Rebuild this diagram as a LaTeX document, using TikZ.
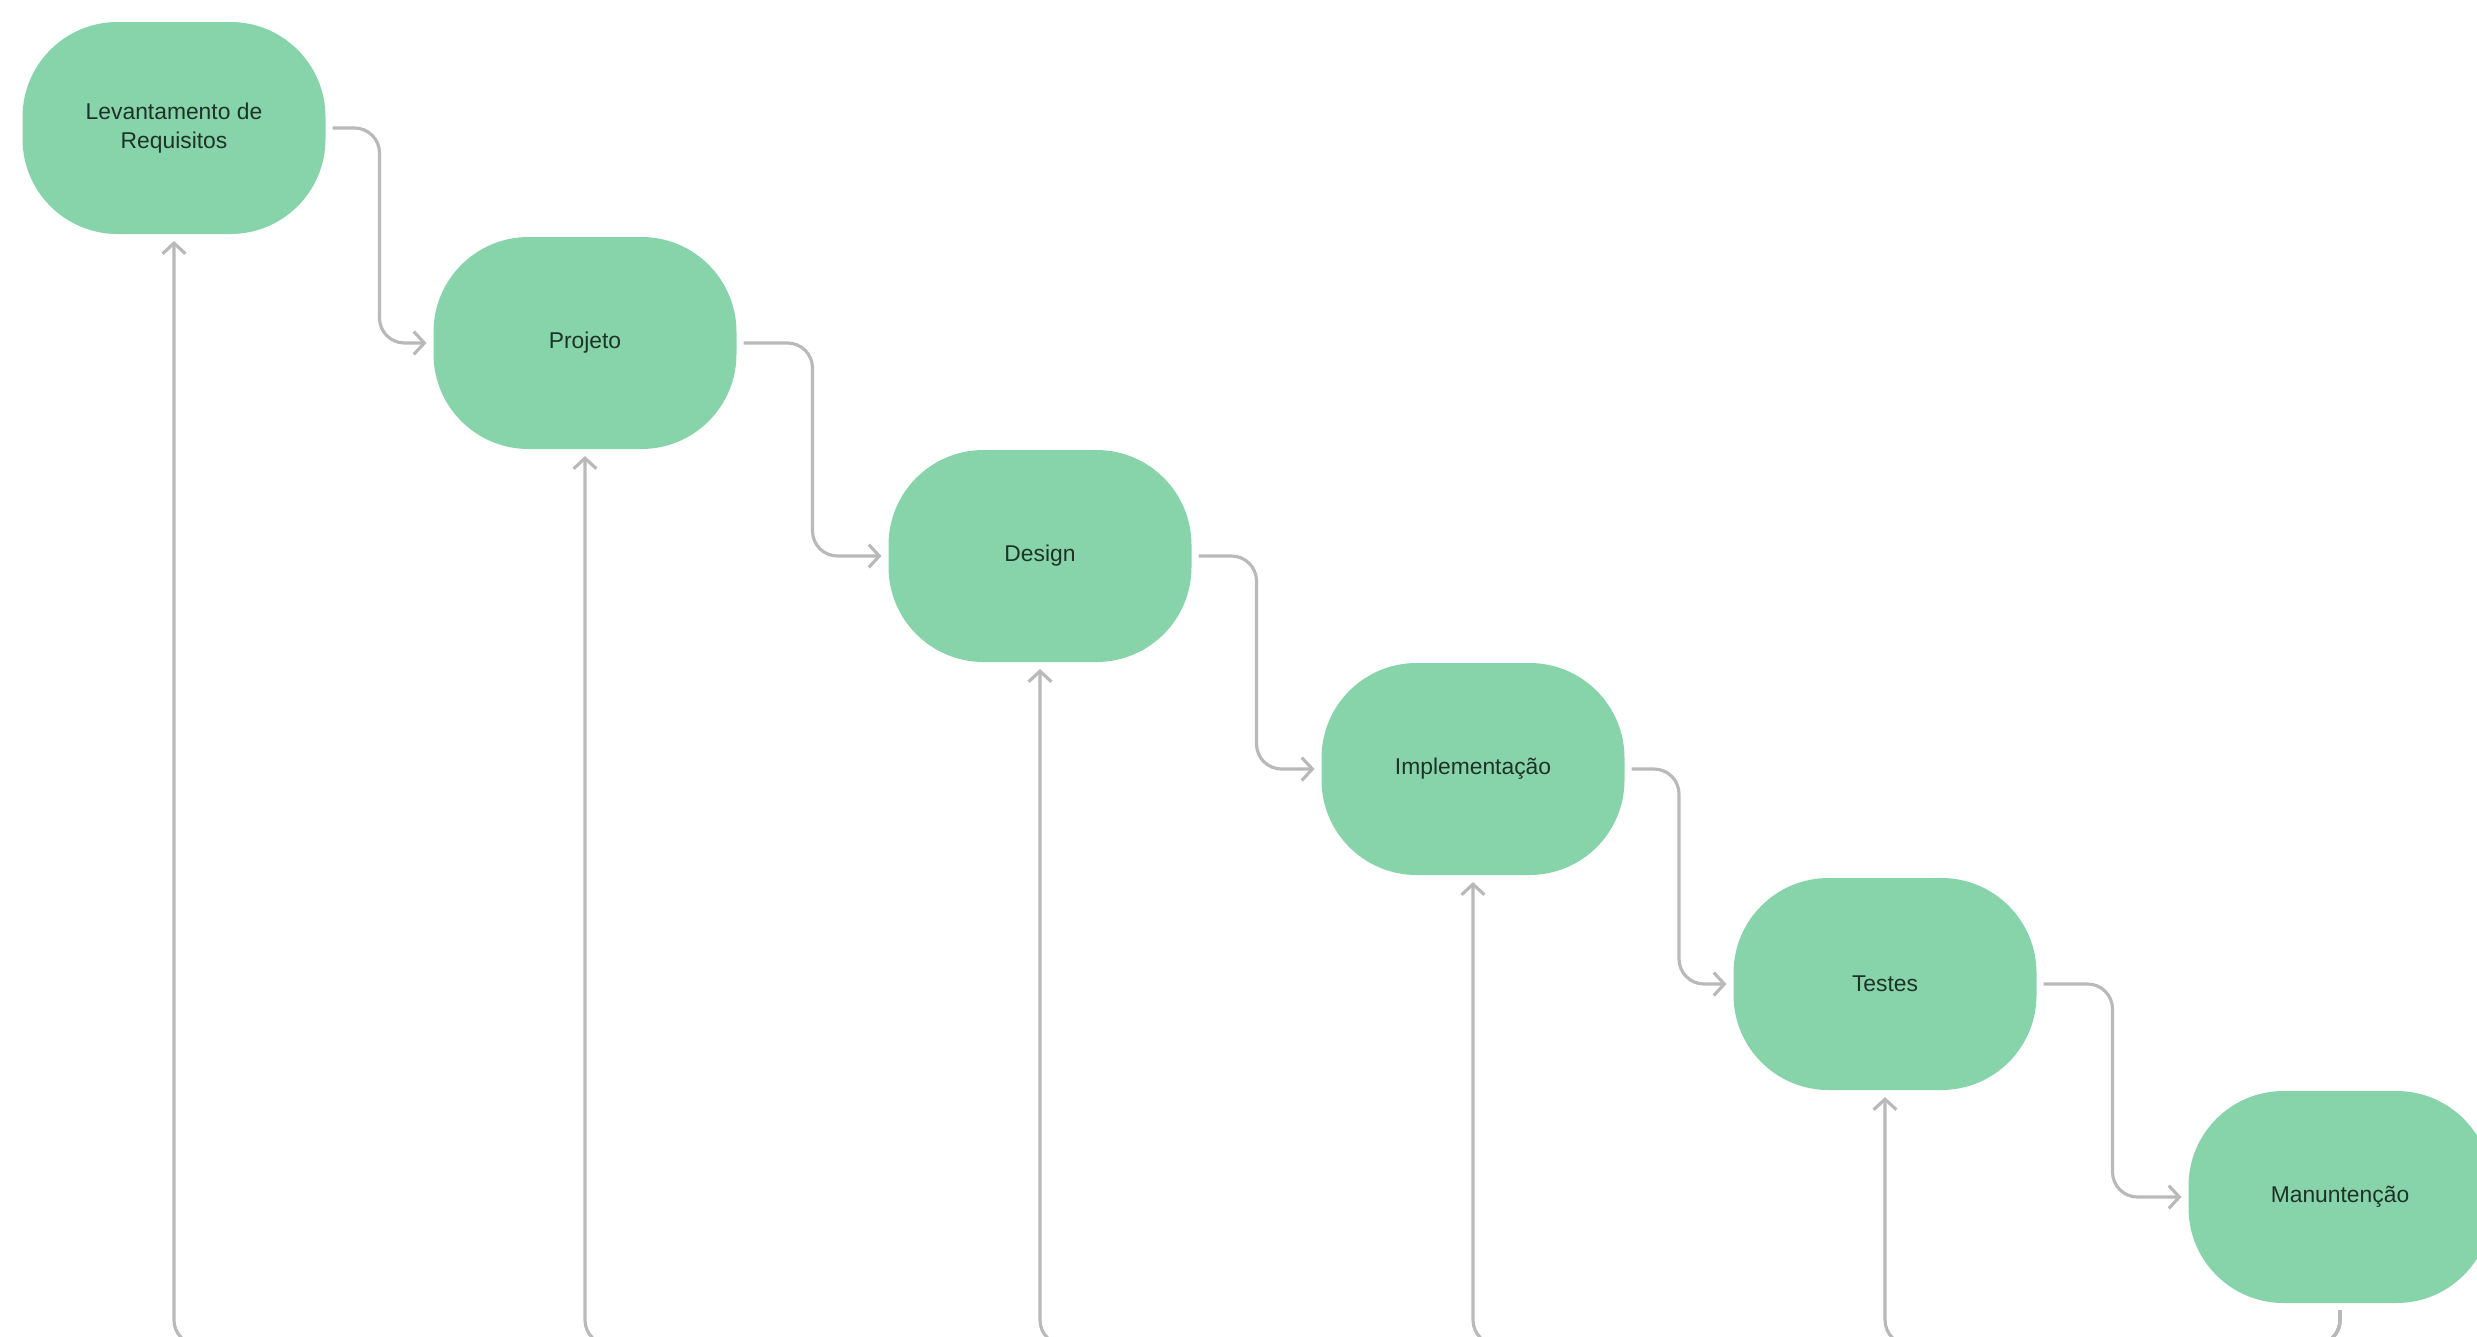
\documentclass[tikz,border=0pt]{standalone}
\usepackage{fontspec}
\setmainfont{Liberation Sans}
\usetikzlibrary{arrows.meta,calc}

\definecolor{verdefase}{HTML}{88D4AA}
\definecolor{textofase}{HTML}{1E3328}
\definecolor{cinzaseta}{HTML}{B9B9B9}

\begin{document}
\begin{tikzpicture}[
	fase/.style = {fill = verdefase, rounded corners = 0.95cm, minimum width = 3.03cm,
		minimum height = 2.12cm, inner sep = 0pt, outer sep = 2pt, align = center,
		text = textofase, font = \fontsize{6.5}{8.2}\selectfont},
	seta/.style = {draw = cinzaseta, line width = 0.9pt, rounded corners = 0.25cm,
		-{Straight Barb[length = 3pt, width = 6.5pt]}}
]
\useasboundingbox (0,0) rectangle (24.77,-13.36);
\clip (0,0) rectangle (24.77,-13.36);

\node[fase] (req)  at (1.74,-1.28)  {Levantamento de\\Requisitos};
\node[fase] (proj) at (5.85,-3.43)  {Projeto};
\node[fase] (des)  at (10.40,-5.56) {Design};
\node[fase] (impl) at (14.73,-7.69) {Implementação};
\node[fase] (test) at (18.85,-9.84) {Testes};
\node[fase] (man)  at (23.40,-11.97) {Manuntenção};

\coordinate (base) at (0,-13.45);

% descida em cascata
\foreach \a/\b in {req/proj, proj/des, des/impl, impl/test, test/man}
	\draw[seta] (\a.east) -| ($(\a.east)!0.5!(\b.west)$) |- (\b.west);

% retorno pela base
\foreach \b in {req, proj, des, impl, test}
	\draw[seta] (man.south) -- (man.south |- base) -| (\b.south);
\end{tikzpicture}
\end{document}
